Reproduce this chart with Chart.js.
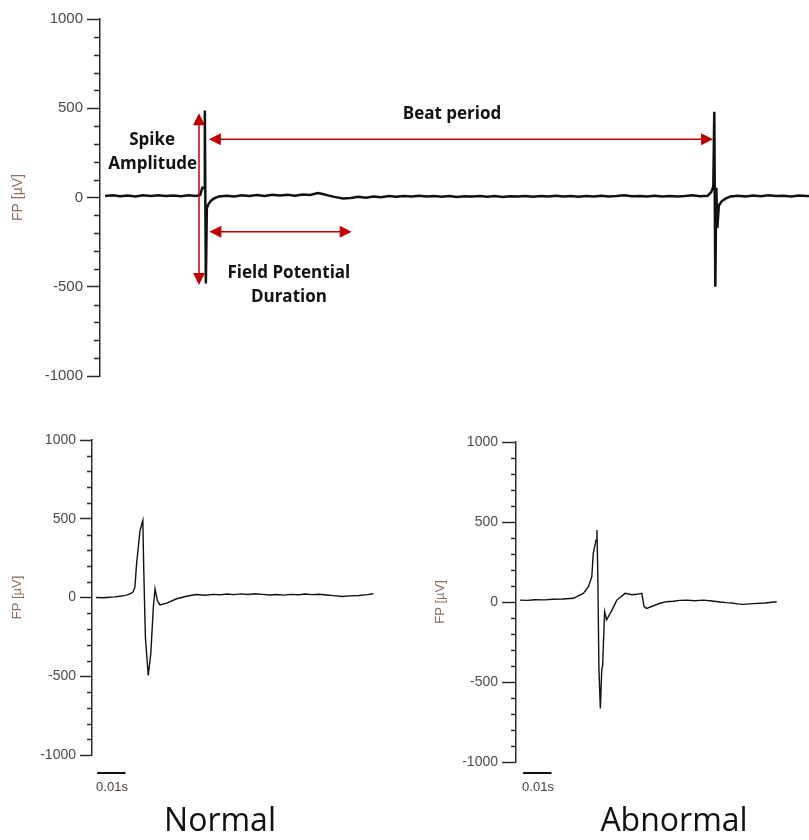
<!DOCTYPE html>
<html lang="en">
<head>
    <meta charset="UTF-8">
    <title>Field potential recordings</title>
    <script src="https://cdn.jsdelivr.net/npm/chart.js"></script>
    <style>
        body { margin: 0; background: #fff; }
        #page { position: relative; width: 809px; height: 840px; overflow: hidden; }
        canvas { position: absolute; }
        .caption { position: absolute; width: 240px; text-align: center; font-family: "Open Sans", sans-serif;
                   font-size: 32px; line-height: 32px; color: #111; }
    </style>
</head>
<body>
<div id="page">
    <canvas id="beatChart" width="809" height="395" style="left:0;top:0"></canvas>
    <canvas id="normalChart" width="400" height="380" style="left:0;top:420px"></canvas>
    <canvas id="abnormalChart" width="389" height="380" style="left:420px;top:420px"></canvas>
    <div class="caption" style="left:100px;top:803px">Normal</div>
    <div class="caption" style="left:554px;top:803px">Abnormal</div>
</div>

<script>
    // Trace du haut : deux battements (temps en s, FP en µV)
    var beatTime = [0.010, 0.025, 0.040, 0.055, 0.070, 0.085, 0.100, 0.115, 0.130, 0.145, 0.160, 0.175, 0.190, 0.198,
        0.202, 0.206, 0.207, 0.209, 0.211, 0.214, 0.219, 0.226, 0.235,
        0.250, 0.265, 0.280, 0.295, 0.310, 0.325, 0.340, 0.355, 0.370, 0.385, 0.400, 0.415, 0.430, 0.440, 0.450,
        0.465, 0.480, 0.495, 0.510, 0.525, 0.540, 0.555, 0.570, 0.585, 0.600, 0.615, 0.630, 0.645, 0.660, 0.675,
        0.690, 0.705, 0.720, 0.735, 0.750, 0.765, 0.780, 0.795, 0.810, 0.825, 0.840, 0.855, 0.870, 0.885, 0.900,
        0.915, 0.930, 0.945, 0.960, 0.975, 0.990, 1.005, 1.020, 1.035, 1.050, 1.065, 1.080, 1.095, 1.110, 1.125,
        1.140, 1.155, 1.170, 1.185, 1.200, 1.207,
        1.211, 1.213, 1.215, 1.217, 1.219, 1.222, 1.228, 1.236, 1.245,
        1.260, 1.275, 1.290, 1.305, 1.320, 1.335, 1.350, 1.365, 1.380, 1.395, 1.400];
    var beatFP = [8, 12, 7, 11, 6, 12, 9, 13, 8, 11, 7, 12, 9, 14,
        55, 52, 488, -482, -60, -38, -18, -4, 6,
        10, 5, 12, 8, 14, 9, 16, 11, 15, 10, 17, 14, 25, 20, 12,
        2, -5, -3, 4, -1, 6, 2, 8, 4, 9, 5, 10, 6, 9, 4,
        8, 3, 7, 5, 9, 4, 8, 3, 7, 5, 9, 4, 8, 6, 10,
        5, 8, 4, 9, 6, 10, 5, 8, 13, 7, 9, 5, 10, 6, 9,
        5, 8, 12, 7, 10, 30,
        60, 480, -500, 55, -170, -45, -20, -5, 6,
        10, 6, 11, 7, 12, 8, 10, 6, 11, 8, 9];

    // Battement normal
    var normalTime = [0.0014, 0.0040, 0.0063, 0.0080, 0.0099, 0.0115, 0.0127, 0.0137, 0.0144, 0.0151, 0.0157, 0.0163,
        0.0169, 0.0176, 0.0179, 0.0182, 0.0188, 0.0198, 0.0207, 0.0216, 0.0222, 0.0230, 0.0239, 0.0263, 0.0298,
        0.0333, 0.0366, 0.0400, 0.0425, 0.0450, 0.0475, 0.0500, 0.0525, 0.0550, 0.0575, 0.0600, 0.0625, 0.0650,
        0.0675, 0.0700, 0.0725, 0.0750, 0.0775, 0.0800, 0.0825, 0.0850, 0.0880, 0.0910, 0.0940, 0.0970, 0.0990];
    var normalFP = [0, -2, 2, 4, 8, 12, 18, 26, 34, 65, 214, 320,
        425, 470, 489, 193, -252, -495, -357, -61, 55, -19, -47, -36, -8,
        8, 19, 14, 20, 17, 22, 18, 23, 19, 24, 20, 16, 19,
        15, 20, 17, 22, 18, 21, 16, 12, 6, 10, 13, 18, 24];

    // Battement anormal
    var abnormalTime = [0.0014, 0.0040, 0.0067, 0.0100, 0.0131, 0.0165, 0.0202, 0.0237, 0.0255, 0.0267, 0.0272,
        0.0282, 0.0285, 0.0288, 0.0292, 0.0297, 0.0302, 0.0305, 0.0312, 0.0319, 0.0335, 0.0355, 0.0384, 0.0408,
        0.0425, 0.0443, 0.0451, 0.0460, 0.0507, 0.0530, 0.0553, 0.0577, 0.0601, 0.0630, 0.0660, 0.0690, 0.0718,
        0.0740, 0.0760, 0.0780, 0.0800, 0.0835, 0.0877, 0.0918];
    var abnormalFP = [12, 10, 14, 13, 17, 19, 23, 54, 96, 158, 304,
        388, 450, 180, -415, -665, -420, -400, -60, -112, -60, 12, 54, 45,
        48, 54, -29, -40, -8, 2, 5, 10, 12, 8, 12, 6, 0,
        -4, -6, -12, -15, -10, -6, 2];

    var yTickStep = 100;        // graduations mineures
    var yLabelStep = 500;       // graduations étiquetées
    var scaleBarSeconds = 0.01; // barre d'échelle des petits graphiques

    var AXIS = '#2b2b2b';
    var RED = '#c00000';

    // petites graduations (Chart.js n'a qu'une longueur de tick)
    var minorTicks = {
        id: 'minorTicks',
        afterDraw: function (chart, args, opts) {
            var y = chart.scales.y, ctx = chart.ctx, left = chart.chartArea.left;
            ctx.save();
            ctx.strokeStyle = AXIS;
            ctx.lineWidth = 1.5;
            y.ticks.forEach(function (t) {
                if (t.value % yLabelStep !== 0) {
                    var py = Math.round(y.getPixelForValue(t.value)) + 0.5;
                    ctx.beginPath();
                    ctx.moveTo(left - opts.len, py);
                    ctx.lineTo(left, py);
                    ctx.stroke();
                }
            });
            ctx.restore();
        }
    };

    // flèches rouges + légendes du graphique du haut
    var arrows = {
        id: 'arrows',
        afterDatasetsDraw: function (chart, args, opts) {
            var x = chart.scales.x, y = chart.scales.y, ctx = chart.ctx;
            function head(px, py, dx, dy) {
                var nx = -dy, ny = dx;
                ctx.beginPath();
                ctx.moveTo(px, py);
                ctx.lineTo(px - dx * 12 + nx * 6, py - dy * 12 + ny * 6);
                ctx.lineTo(px - dx * 12 - nx * 6, py - dy * 12 - ny * 6);
                ctx.closePath();
                ctx.fill();
            }
            ctx.save();
            ctx.strokeStyle = RED;
            ctx.fillStyle = RED;
            ctx.lineWidth = 1.5;
            opts.lines.forEach(function (a) {
                var x0 = x.getPixelForValue(a.from[0]), y0 = y.getPixelForValue(a.from[1]);
                var x1 = x.getPixelForValue(a.to[0]), y1 = y.getPixelForValue(a.to[1]);
                var len = Math.hypot(x1 - x0, y1 - y0), dx = (x1 - x0) / len, dy = (y1 - y0) / len;
                ctx.beginPath();
                ctx.moveTo(x0 + dx * 10, y0 + dy * 10);
                ctx.lineTo(x1 - dx * 10, y1 - dy * 10);
                ctx.stroke();
                head(x1, y1, dx, dy);
                head(x0, y0, -dx, -dy);
            });
            ctx.fillStyle = '#111';
            ctx.font = 'bold 17px "Open Sans", sans-serif';
            ctx.textAlign = 'center';
            ctx.textBaseline = 'alphabetic';
            opts.notes.forEach(function (n) {
                ctx.fillText(n.text, x.getPixelForValue(n.at[0]), y.getPixelForValue(n.at[1]));
            });
            ctx.restore();
        }
    };

    var scaleBar = {
        id: 'scaleBar',
        afterDraw: function (chart, args, opts) {
            var x = chart.scales.x, ctx = chart.ctx;
            var x0 = x.getPixelForValue(opts.from), x1 = x.getPixelForValue(opts.from + scaleBarSeconds);
            var py = chart.chartArea.bottom + opts.dy;
            ctx.save();
            ctx.strokeStyle = '#111';
            ctx.lineWidth = 2;
            ctx.beginPath();
            ctx.moveTo(x0, py);
            ctx.lineTo(x1, py);
            ctx.stroke();
            ctx.fillStyle = '#4a4038';
            ctx.font = '13px "Liberation Sans", Arial, sans-serif';
            ctx.textAlign = 'left';
            ctx.fillText(scaleBarSeconds + 's', x0 - 1, py + opts.textDy);
            ctx.restore();
        }
    };

    function makeChart(id, times, values, cfg) {
        var points = times.map(function (t, i) { return { x: t, y: values[i] }; });
        return new Chart(document.getElementById(id), {
            type: 'scatter',
            data: {
                datasets: [{
                    data: points,
                    showLine: true,
                    borderColor: '#111',
                    borderWidth: cfg.lineWidth,
                    pointRadius: 0,
                    tension: 0
                }]
            },
            options: {
                responsive: false,
                animation: false,
                events: [],
                layout: { padding: cfg.padding },
                plugins: {
                    legend: { display: false },
                    tooltip: { enabled: false },
                    minorTicks: { len: cfg.minorLen },
                    arrows: cfg.arrows,
                    scaleBar: cfg.scaleBar
                },
                scales: {
                    x: { type: 'linear', display: false, min: 0, max: cfg.xMax },
                    y: {
                        min: -1000,
                        max: 1000,
                        afterFit: function (scale) { scale.width = cfg.axisWidth; },
                        border: { display: true, color: AXIS, width: 1.5 },
                        grid: {
                            display: true,
                            drawOnChartArea: false,
                            drawTicks: true,
                            tickLength: cfg.majorLen,
                            tickWidth: 1.5,
                            tickColor: function (c) {
                                return c.tick && c.tick.value % yLabelStep === 0 ? AXIS : 'rgba(0,0,0,0)';
                            }
                        },
                        ticks: {
                            stepSize: yTickStep,
                            autoSkip: false,
                            padding: 4,
                            color: '#4a4a4a',
                            font: { family: '"Liberation Sans", Arial, sans-serif', size: cfg.tickSize },
                            callback: function (v) { return v % yLabelStep === 0 ? String(v) : ''; }
                        },
                        title: {
                            display: true,
                            text: 'FP [µV]',
                            color: '#8b6d5c',
                            font: { family: '"Liberation Sans", Arial, sans-serif', size: cfg.titleSize },
                            padding: { top: cfg.titlePad, bottom: 0 }
                        }
                    }
                }
            },
            plugins: cfg.plugins
        });
    }

    makeChart('beatChart', beatTime, beatFP, {
        xMax: 1.4, axisWidth: 100, padding: { top: 19, bottom: 19, left: 0, right: 0 },
        lineWidth: 2.5, majorLen: 13, minorLen: 6, tickSize: 15, titleSize: 14, titlePad: 10,
        plugins: [minorTicks, arrows],
        arrows: {
            lines: [
                { from: [0.1955, 472], to: [0.1955, -490] },
                { from: [0.215, 326], to: [1.2105, 326] },
                { from: [0.216, -192], to: [0.497, -192] }
            ],
            notes: [
                { text: 'Spike', at: [0.103, 294] },
                { text: 'Amplitude', at: [0.104, 160] },
                { text: 'Beat period', at: [0.695, 440] },
                { text: 'Field Potential', at: [0.373, -451] },
                { text: 'Duration', at: [0.373, -585] }
            ]
        }
    });

    makeChart('normalChart', normalTime, normalFP, {
        xMax: 0.1, axisWidth: 92, padding: { top: 20, bottom: 45, left: 0, right: 24 },
        lineWidth: 1.4, majorLen: 12, minorLen: 5, tickSize: 14, titleSize: 13, titlePad: 10,
        plugins: [minorTicks, scaleBar],
        scaleBar: { from: 0.0018, dy: 18, textDy: 18 }
    });

    makeChart('abnormalChart', abnormalTime, abnormalFP, {
        xMax: 0.1, axisWidth: 96, padding: { top: 22, bottom: 38, left: 0, right: 9 },
        lineWidth: 1.4, majorLen: 14, minorLen: 5, tickSize: 14, titleSize: 13, titlePad: 13,
        plugins: [minorTicks, scaleBar],
        scaleBar: { from: 0.0025, dy: 11, textDy: 18 }
    });
</script>
</body>
</html>
